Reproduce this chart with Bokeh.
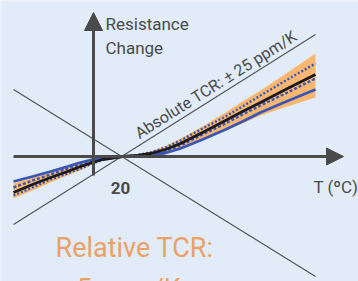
from bokeh.plotting import figure
from bokeh.models import Range1d, Arrow, NormalHead, ColumnDataSource
from bokeh.core.properties import value
from bokeh.embed import file_html
from bokeh.resources import INLINE
import math

# ---- data (schematic units: T in degC-like units, resistance change arbitrary) ----
T = [-89, -70, -52, -35, -22, -10, 0, 20, 35, 48, 63, 78, 100, 123, 140, 158, 185, 213]
nominal = [-36, -28, -21, -15, -10, -6, -3, 0, 1, 3, 7, 13, 24, 36, 45, 54, 68, 82]
band_upper = [-27, -21, -16, -11, -7, -4, -2, 0, 2, 5, 10.5, 18, 30, 44, 55, 66, 84, 103]
band_lower = [-42, -34, -26, -19, -14, -8, -4, 0, 0.5, 1.5, 3.5, 7.5, 16, 26, 33, 41, 50, 59]
blue_solid = [-25, -20, -15, -10, -6, -3, -1.5, 0, 0.3, 1.2, 3.5, 8, 17, 27, 35, 44, 55.5, 67]
blue_dotted = [-39, -31, -23, -17, -12, -7, -3.5, 0, 1.5, 4, 9, 16, 28, 40, 50, 61, 77, 93]
blue_dashed = [-31, -24, -18, -12, -8, -5, -2.5, 0, 1, 2, 5.5, 11, 22, 33, 42, 51, 64, 78]

ref_T = 20
line_T = [-89, 213]
abs_line = [-68, 122]     # absolute TCR limit line (rising)
rel_line = [67, -120]     # mirrored limit line (falling)

xaxis_T = [-89, 241]
yaxis_R = [-19, 144]
yaxis_T = -9

labels_gray = ["Resistance", "Change", "T (\u00baC)"]
labels_gray_x = [3, 3, 211]
labels_gray_y = [133, 109, -30]
tick_label = "20"
abs_label = "Absolute TCR: \u00b1 25 ppm/K"
rel_labels = ["Relative TCR:", "\u00b1 5 ppm/K"]

BG = "#e1ecf8"
GRAY = "#4a4a4a"
ORANGE_BAND = "#f9b771"
ORANGE_TEXT = "#eba066"
BLUE = "#3a56b4"
FONT = "Roboto"

p = figure(width=358, height=281, output_backend="svg", toolbar_location=None,
           x_range=Range1d(-102, 256), y_range=Range1d(-125, 156),
           x_axis_type=None, y_axis_type=None, min_border=0,
           background_fill_color=BG, border_fill_color=BG, outline_line_color=None)
p.grid.visible = False

# diagonal limit lines
p.line(line_T, abs_line, line_color="#555555", line_width=1.2)
p.line(line_T, rel_line, line_color="#555555", line_width=1.2)

# axes with arrows
p.add_layout(Arrow(end=NormalHead(size=17, fill_color=GRAY, line_color=GRAY),
                   x_start=xaxis_T[0], y_start=0, x_end=xaxis_T[1], y_end=0,
                   line_color=GRAY, line_width=3))
p.add_layout(Arrow(end=NormalHead(size=18, fill_color=GRAY, line_color=GRAY),
                   x_start=yaxis_T, y_start=yaxis_R[0], x_end=yaxis_T, y_end=yaxis_R[1],
                   line_color=GRAY, line_width=3))

# band and curves
src = ColumnDataSource(dict(T=T, nom=nominal, up=band_upper, lo=band_lower,
                            bs=blue_solid, bd=blue_dotted, bq=blue_dashed))
p.varea(x="T", y1="lo", y2="up", source=src, fill_color=ORANGE_BAND, fill_alpha=1.0)
p.line("T", "bs", source=src, line_color=BLUE, line_width=2.8)
p.line("T", "bd", source=src, line_color=BLUE, line_width=2.4, line_dash="2 2")
p.line("T", "bq", source=src, line_color=BLUE, line_width=2.4, line_dash="3 2")
p.line("T", "nom", source=src, line_color="#1a1a1a", line_width=2.8)

# texts
p.text(x=labels_gray_x, y=labels_gray_y, text=labels_gray, text_font=value(FONT),
       text_font_size=value("17px"), text_color=GRAY, text_baseline="alphabetic",
       text_align="left")
p.text(x=[ref_T - 2], y=[-31], text=[tick_label], text_font=value(FONT),
       text_font_size=value("17px"), text_color=GRAY, text_baseline="alphabetic",
       text_align="center", text_font_style="bold")
ang = math.atan2(abs_line[1] - abs_line[0], line_T[1] - line_T[0])
p.text(x=[34], y=[22], text=[abs_label], angle=ang, text_font=value(FONT),
       text_font_size=value("16px"), text_color=GRAY, text_baseline="alphabetic",
       text_align="left")
p.text(x=[-47, -47], y=[-91, -132], text=rel_labels, text_font=value(FONT),
       text_font_size=value("27px"), text_color=ORANGE_TEXT, text_baseline="alphabetic",
       text_align="left")

open("out.html", "w").write(file_html(p, INLINE))
